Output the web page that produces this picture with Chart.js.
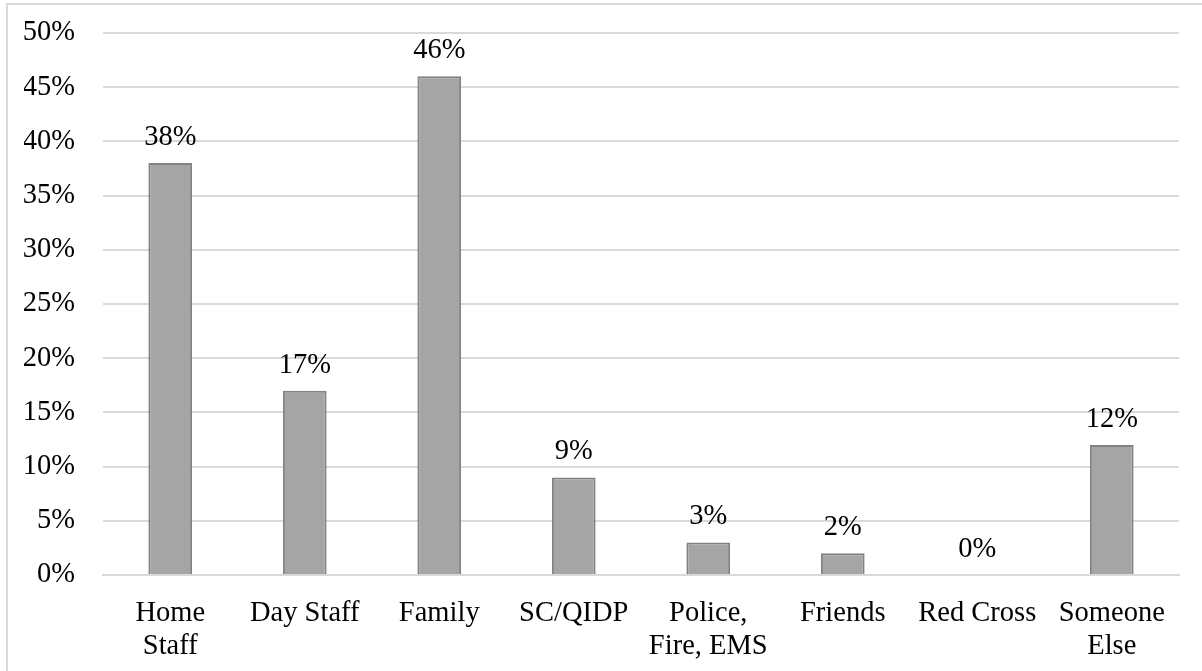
<!DOCTYPE html>
<html>
<head>
<meta charset="utf-8">
<script src="https://cdn.jsdelivr.net/npm/chart.js@4.4.1/dist/chart.umd.min.js"></script>
<style>
  html, body { margin: 0; padding: 0; background: #fff; overflow: hidden; }
  #wrap { position: relative; width: 1202px; height: 671px; }
  #frame { position: absolute; left: 6px; top: 3px; width: 1300px; height: 800px;
           border-left: 2px solid #d9d9d9; border-top: 2px solid #d9d9d9; box-sizing: border-box; }
  canvas { position: absolute; left: 0; top: 0; }
</style>
</head>
<body>
<div id="wrap">
  <div id="frame"></div>
  <canvas id="c" width="1202" height="671"></canvas>
</div>
<script>
const categories = [["Home", "Staff"], "Day Staff", "Family", "SC/QIDP", ["Police,", "Fire, EMS"], "Friends", "Red Cross", ["Someone", "Else"]];
const values = [38, 17, 46, 9, 3, 2, 0, 12];
const yTicks = [0, 5, 10, 15, 20, 25, 30, 35, 40, 45, 50];

const FONT = "'Liberation Serif', 'Times New Roman', serif";
const FS = 28.5;

const labelPlugin = {
  id: 'barLabels',
  afterDatasetsDraw(chart) {
    const ctx = chart.ctx;
    const meta = chart.getDatasetMeta(0);
    ctx.save();
    ctx.font = FS + "px " + FONT;
    ctx.fillStyle = "#000";
    ctx.textAlign = "center";
    ctx.textBaseline = "alphabetic";
    meta.data.forEach((bar, i) => {
      ctx.fillText(values[i] + "%", bar.x, bar.y - 18);
    });
    ctx.restore();
  }
};

new Chart(document.getElementById('c'), {
  type: 'bar',
  data: {
    labels: categories,
    datasets: [{
      data: values,
      backgroundColor: '#a5a5a5',
      borderColor: '#828282',
      borderWidth: 2,
      barPercentage: 0.325,
      categoryPercentage: 1.0
    }]
  },
  options: {
    responsive: false,
    animation: false,
    devicePixelRatio: 1,
    layout: { padding: { left: 24, right: 23, top: 33, bottom: 0 } },
    plugins: { legend: { display: false }, tooltip: { enabled: false } },
    scales: {
      x: {
        grid: { display: false, drawTicks: false },
        border: { display: true, color: '#d9d9d9', width: 2 },
        afterFit(axis) {
          axis.height = 96;
          axis.paddingLeft = 0; axis.paddingRight = 0;
        },
        ticks: {
          color: '#000',
          padding: 22,
          maxRotation: 0,
          autoSkip: false,
          font: { family: FONT, size: FS, lineHeight: 1.16 }
        }
      },
      y: {
        min: 0,
        max: 50,
        afterBuildTicks(axis) { axis.ticks = yTicks.map(v => ({ value: v })); },
        afterFit(axis) {
          axis.width = 79;
          axis.paddingTop = 0; axis.paddingBottom = 0;
        },
        grid: { color: '#d9d9d9', lineWidth: 2, drawTicks: false },
        border: { display: false },
        ticks: {
          color: '#000',
          padding: 28,
          callback: v => v + '%',
          font: { family: FONT, size: FS }
        }
      }
    }
  },
  plugins: [labelPlugin]
});
</script>
</body>
</html>
